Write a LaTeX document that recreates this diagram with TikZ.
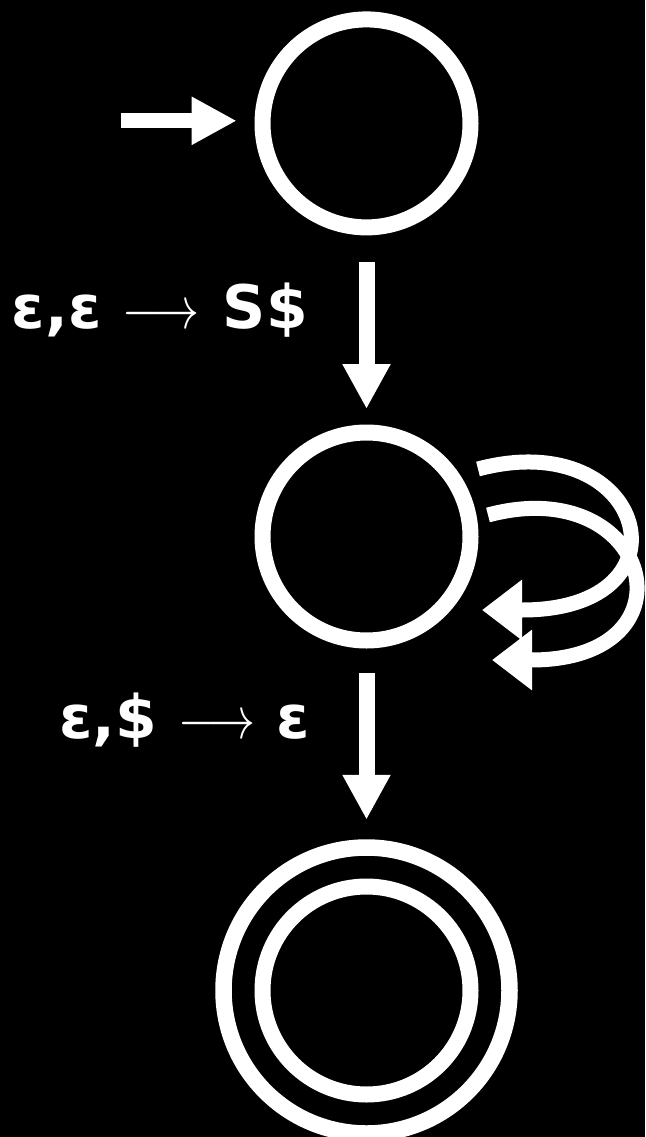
\RequirePackage{fix-cm}
\documentclass[tikz,border=0pt]{standalone}
\usepackage{fontspec}
\setmainfont{DejaVu Sans}
\usepackage{graphicx}
\usetikzlibrary{arrows.meta,calc}
\newcommand{\thinarrow}{\scalebox{0.8}[1]{$\longrightarrow$}}
\begin{document}
\begin{tikzpicture}[x=1pt,y=-1pt,
  state/.style={circle,draw=white,line width=16pt,minimum size=208pt,inner sep=0pt,outer sep=8pt},
  ring/.style={circle,draw=white,line width=16.5pt,minimum size=286pt,inner sep=0pt,outer sep=8.25pt},
  arr/.style={draw=white,line width=16pt,-{Triangle[length=45pt,width=45pt]}},
  looparr/.style={draw=white,line width=15pt,-{Triangle[length=40pt,width=58pt]}},
  lbl/.style={text=white,font=\fontsize{60}{72}\selectfont\bfseries,inner sep=0pt}]
\useasboundingbox (0,0) rectangle (645,1137);
\clip (0,0) rectangle (645,1137);
\fill[black] (0,0) rectangle (645,1137);
% states
\node[state] (q0) at (366.5,123.4) {};
\node[state] (q1) at (366.5,536.5) {};
\node[state] (q2) at (366.5,990.5) {};
\node[ring] (q2o) at (366.5,990.5) {};
% initial arrow
\coordinate (init) at (121,120.8);
\draw[arr,line width=15pt,shorten >=17.8pt] (init) -- (init -| q0.west);
% transitions
\draw[arr,shorten <=27pt,shorten >=15.5pt] (q0) -- (q1);
\draw[arr,shorten <=24.5pt,shorten >=19.5pt] (q1) -- (q2o);
% self loops
\draw[looparr] ([shift={(111.5,-67.5)}]q1.center) .. controls +(169,-45) and +(175,0) .. ([shift={(155.5,73.5)}]q1.center) -- ++(-40,0);
\draw[looparr] ([shift={(121.5,-21.5)}]q1.center) .. controls +(164,-44) and +(170,0) .. ([shift={(164.5,123.5)}]q1.center) -- ++(-39,0);
% labels
\node[lbl,anchor=base east] (l1) at (308,328) {ε,ε\hspace{21pt}\thinarrow\hspace{23pt}S\$};
\node[lbl,anchor=base east] (l2) at (310,738) {ε,\$\hspace{21pt}\thinarrow\hspace{21pt}ε};
\end{tikzpicture}
\end{document}
